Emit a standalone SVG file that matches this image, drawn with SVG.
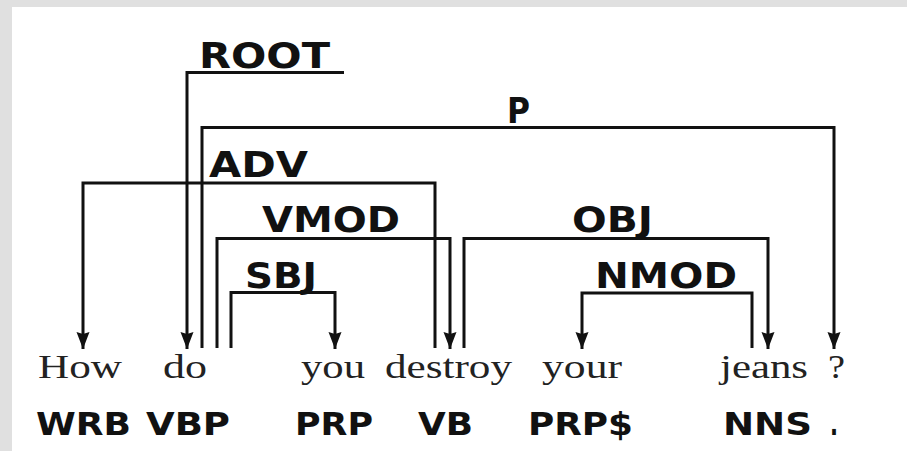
<svg xmlns="http://www.w3.org/2000/svg" width="907" height="451" viewBox="0 0 907 451">
  <style>
    .lbl { font-family: "DejaVu Sans", Verdana, sans-serif; font-weight: bold; font-size: 36px; fill: #111; }
    .pos { font-family: "DejaVu Sans", Verdana, sans-serif; font-weight: bold; font-size: 32px; fill: #111; }
    .word { font-family: "Liberation Serif", "Times New Roman", serif; font-size: 33px; fill: #222; }
    .edge { fill: none; stroke: #111; stroke-width: 3; }
    .arr { marker-end: url(#head); }
  </style>
  <defs>
    <marker id="head" markerUnits="userSpaceOnUse" viewBox="0 -7 18 14" markerWidth="18" markerHeight="14" refX="17" refY="0" orient="auto">
      <path d="M0,-6.5 L17,0 L0,6.5 L2,0 Z" fill="#111"/>
    </marker>
  </defs>
  <rect x="0" y="0" width="907" height="451" fill="#e0e0e0"/>
  <rect x="12" y="7" width="895" height="444" fill="#ffffff"/>

  <g id="connectors">
    <g id="edge-root">
      <path class="edge arr" d="M344,72.5 H187 V349"/>
      <text class="lbl" x="199" y="68" textLength="131" lengthAdjust="spacingAndGlyphs">ROOT</text>
    </g>
    <g id="edge-p">
      <path class="edge arr" d="M202,348 V127.5 H834 V349"/>
      <text class="lbl" x="507" y="123" textLength="23" lengthAdjust="spacingAndGlyphs">P</text>
    </g>
    <g id="edge-adv">
      <path class="edge arr" d="M435,348 V183 H83 V349"/>
      <text class="lbl" x="209" y="177" textLength="99" lengthAdjust="spacingAndGlyphs">ADV</text>
    </g>
    <g id="edge-vmod">
      <path class="edge arr" d="M217,348 V238.5 H450 V349"/>
      <text class="lbl" x="262" y="232" textLength="138" lengthAdjust="spacingAndGlyphs">VMOD</text>
    </g>
    <g id="edge-obj">
      <path class="edge arr" d="M464,348 V238.5 H768 V349"/>
      <text class="lbl" x="572" y="232" textLength="81" lengthAdjust="spacingAndGlyphs">OBJ</text>
    </g>
    <g id="edge-sbj">
      <path class="edge arr" d="M231,348 V292.5 H335 V349"/>
      <text class="lbl" x="245" y="288" textLength="72" lengthAdjust="spacingAndGlyphs">SBJ</text>
    </g>
    <g id="edge-nmod">
      <path class="edge arr" d="M752,348 V293 H582 V349"/>
      <text class="lbl" x="595" y="288" textLength="142" lengthAdjust="spacingAndGlyphs">NMOD</text>
    </g>
  </g>

  <g id="node-how">
    <text class="word" x="38" y="378" textLength="84" lengthAdjust="spacingAndGlyphs">How</text>
    <text class="pos" x="36" y="435" textLength="95" lengthAdjust="spacingAndGlyphs">WRB</text>
  </g>
  <g id="node-do">
    <text class="word" x="163" y="378" textLength="44" lengthAdjust="spacingAndGlyphs">do</text>
    <text class="pos" x="146" y="435" textLength="84" lengthAdjust="spacingAndGlyphs">VBP</text>
  </g>
  <g id="node-you">
    <text class="word" x="301" y="378" textLength="64" lengthAdjust="spacingAndGlyphs">you</text>
    <text class="pos" x="295" y="435" textLength="78" lengthAdjust="spacingAndGlyphs">PRP</text>
  </g>
  <g id="node-destroy">
    <text class="word" x="385" y="378" textLength="127" lengthAdjust="spacingAndGlyphs">destroy</text>
    <text class="pos" x="418" y="435" textLength="55" lengthAdjust="spacingAndGlyphs">VB</text>
  </g>
  <g id="node-your">
    <text class="word" x="542" y="378" textLength="80" lengthAdjust="spacingAndGlyphs">your</text>
    <text class="pos" x="528" y="435" textLength="105" lengthAdjust="spacingAndGlyphs">PRP$</text>
  </g>
  <g id="node-jeans">
    <text class="word" x="720" y="378" textLength="88" lengthAdjust="spacingAndGlyphs">jeans</text>
    <text class="pos" x="723" y="435" textLength="89" lengthAdjust="spacingAndGlyphs">NNS</text>
  </g>
  <g id="node-q">
    <text class="word" x="828" y="378" textLength="17" lengthAdjust="spacingAndGlyphs">?</text>
    <text class="pos" x="830" y="435" textLength="8" lengthAdjust="spacingAndGlyphs">.</text>
  </g>
</svg>
